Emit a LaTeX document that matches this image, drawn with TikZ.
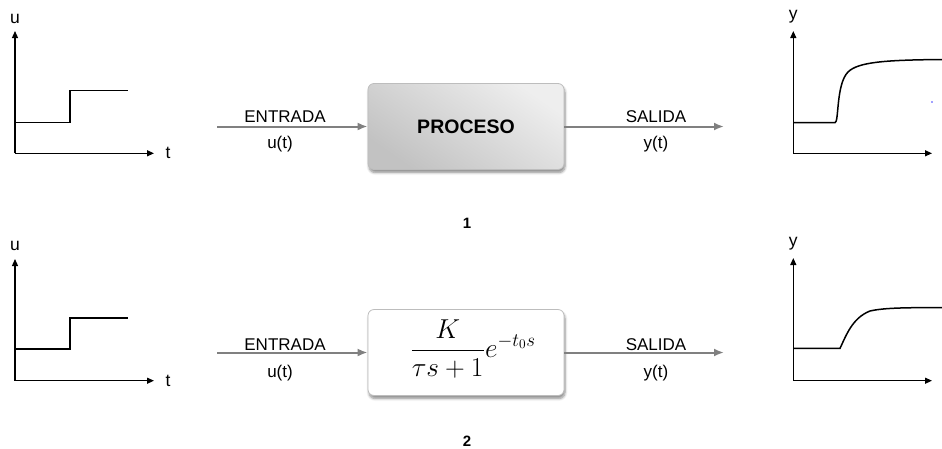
\documentclass[tikz,border=0pt]{standalone}
\usepackage[no-math]{fontspec}
\setmainfont{Liberation Sans}
\usetikzlibrary{arrows.meta,shadows.blur}
\definecolor{flowgray}{HTML}{808080}
\definecolor{boxedge}{HTML}{BDBDBD}
\definecolor{boxlight}{HTML}{EEEEEE}
\definecolor{boxdark}{HTML}{C2C2C2}
\begin{document}
\begin{tikzpicture}[x=1pt,y=-1pt,
  axis/.style={line width=1.2pt, -{Triangle[length=7pt,width=6pt]}},
  sig/.style={line width=1.5pt, line join=miter},
  conn/.style={draw=flowgray, line width=2pt, -{Latex[length=10pt,width=8pt]}},
  lbl/.style={font=\fontsize{17}{20}\selectfont, inner sep=0pt},
  axlbl/.style={font=\fontsize{17.5}{20}\selectfont, inner sep=0pt},
  num/.style={font=\bfseries\fontsize{15}{17}\selectfont, inner sep=0pt},
  blockbox/.style={draw=boxedge, line width=0.8pt, rounded corners=6pt,
    minimum width=196pt, minimum height=86pt, inner sep=0pt,
    blur shadow={shadow xshift=1pt, shadow yshift=-3pt, shadow opacity=45,
      shadow blur steps=6, shadow blur radius=2.5pt}},
]
\useasboundingbox (0,0) rectangle (942,448);

% ---------- system 1 ----------
\node[blockbox, top color=boxlight, bottom color=boxdark, shading angle=-35,
      font=\bfseries\fontsize{19.5}{22}\selectfont] (p1) at (466,126.5) {PROCESO};
\coordinate (in1) at (217,126.5);
\coordinate (out1) at (724,126.5);
\draw[conn] (in1) -- (p1.west);
\draw[conn] (p1.east) -- (out1);
\node[lbl] (e1) at (285,116.5) {ENTRADA};
\node[lbl] (u1) at (280,144) {u(t)};
\node[lbl] (s1) at (656,116.5) {SALIDA};
\node[lbl] (y1) at (656,144) {y(t)};
\node[num] (n1) at (467,223) {1};

% input plot 1
\coordinate (ao1) at (15,153.3);
\coordinate (ay1) at (15,31);
\coordinate (ax1) at (154,153.3);
\draw[axis] (ao1) -- (ay1);
\draw[axis] (ao1) -- (ax1);
\node[axlbl] (lu1) at (15,19) {u};
\node[axlbl] (lt1) at (168,153) {t};
\draw[sig] (15,122.7) -- (70,122.7) -- (70,90.7) -- (128,90.7);

% output plot 1
\coordinate (bo1) at (793.3,153.3);
\coordinate (by1) at (793.3,31);
\coordinate (bx1) at (932,153.3);
\draw[axis] (bo1) -- (by1);
\draw[axis] (bo1) -- (bx1);
\node[axlbl] (ly1) at (793.3,17) {y};
\draw[sig] (793.3,122.7) -- (835,122.7)
  .. controls (839,122.7) and (836,84) .. (848,72)
  .. controls (858,62) and (885,60) .. (942,59.5);
\fill[blue!75] (932,102) circle (0.9pt);

% ---------- system 2 ----------
\node[blockbox, fill=white] (p2) at (466,352.5) {};
\node[inner sep=0pt, font=\fontsize{20}{24}\selectfont, scale=1.32] (f2) at (473,349)
  {$\displaystyle\frac{K}{\tau s+1}e^{-t_0 s}$};
\coordinate (in2) at (217,352.5);
\coordinate (out2) at (724,352.5);
\draw[conn] (in2) -- (p2.west);
\draw[conn] (p2.east) -- (out2);
\node[lbl] (e2) at (285,345) {ENTRADA};
\node[lbl] (u2) at (280,372.6) {u(t)};
\node[lbl] (s2) at (656,345) {SALIDA};
\node[lbl] (y2) at (656,372.6) {y(t)};
\node[num] (n2) at (467,441) {2};

% input plot 2
\coordinate (ao2) at (15,380.7);
\coordinate (ay2) at (15,259);
\coordinate (ax2) at (154,380.7);
\draw[axis] (ao2) -- (ay2);
\draw[axis] (ao2) -- (ax2);
\node[axlbl] (lu2) at (15,246) {u};
\node[axlbl] (lt2) at (168,381) {t};
\draw[sig] (15,349) -- (70,349) -- (70,318) -- (128,318);

% output plot 2
\coordinate (bo2) at (793.3,380.7);
\coordinate (by2) at (793.3,258);
\coordinate (bx2) at (932,380.7);
\draw[axis] (bo2) -- (by2);
\draw[axis] (bo2) -- (bx2);
\node[axlbl] (ly2) at (793.3,244) {y};
\draw[sig] (793.3,348.3) -- (840,348.3)
  .. controls (846,336) and (852,318) .. (870,311)
  .. controls (885,307.5) and (910,307.7) .. (942,307.5);
\end{tikzpicture}
\end{document}
